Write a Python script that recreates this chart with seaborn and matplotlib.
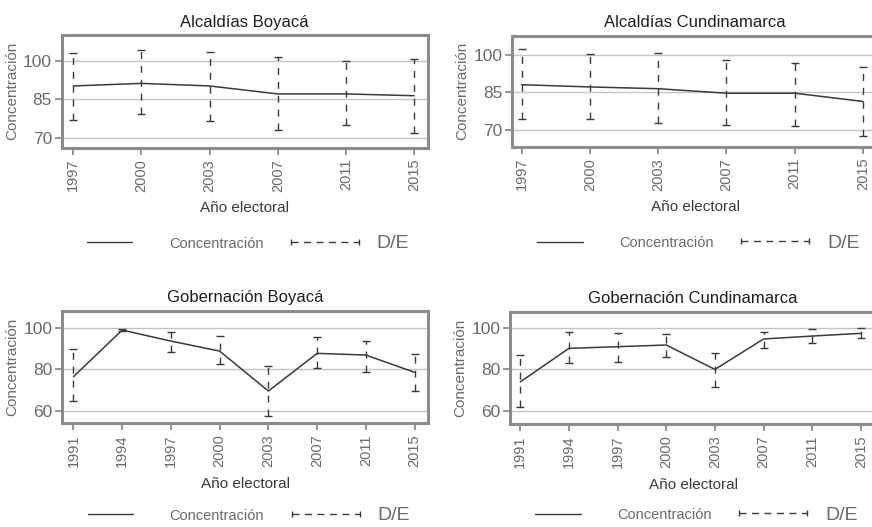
import matplotlib

matplotlib.use("Agg")
import matplotlib.pyplot as plt
import numpy as np
import pandas as pd
import seaborn as sns
from matplotlib.lines import Line2D

# --- data ---
years_alc = ["1997", "2000", "2003", "2007", "2011", "2015"]
years_gob = ["1991", "1994", "1997", "2000", "2003", "2007", "2011", "2015"]

alc_boy_mean = [90.2, 91.2, 90.2, 87.1, 87.1, 86.4]
alc_boy_low = [77.0, 79.3, 76.5, 72.9, 75.1, 71.9]
alc_boy_high = [102.9, 104.1, 103.5, 101.6, 99.9, 100.7]

alc_cun_mean = [88.1, 87.2, 86.5, 84.7, 84.7, 81.4]
alc_cun_low = [74.5, 74.5, 72.8, 72.1, 71.4, 67.6]
alc_cun_high = [102.2, 100.2, 100.9, 97.8, 96.9, 95.2]

gob_boy_mean = [76.5, 98.9, 93.6, 88.8, 69.6, 87.7, 86.9, 78.6]
gob_boy_low = [64.9, 98.5, 88.2, 82.4, 57.7, 80.5, 78.9, 69.7]
gob_boy_high = [89.6, 99.3, 97.8, 96.0, 81.8, 95.6, 93.7, 87.2]

gob_cun_mean = [74.0, 90.1, 90.9, 91.7, 80.0, 94.6, 96.0, 97.3]
gob_cun_low = [62.0, 83.2, 83.7, 86.1, 71.7, 90.4, 92.5, 95.2]
gob_cun_high = [86.9, 97.8, 97.3, 97.0, 88.0, 98.1, 99.2, 99.7]

sns.set_style("white")
plt.rcParams["font.family"] = ["Liberation Sans", "DejaVu Sans"]

FRAME = "#8c8c8c"
GRID = "#c4c4c4"
LINE = "#3a3a3a"
TEXT = "#6a6a6a"

fig = plt.figure(figsize=(8.72, 5.27), dpi=100)

panels = [
    ("Alcaldías Boyacá", years_alc, alc_boy_mean, alc_boy_low, alc_boy_high,
     [0.0708, 0.7197, 0.4197, 0.2139], (-0.17, 5.2), (66.2, 110), [70, 85, 100], -0.85),
    ("Alcaldías Cundinamarca", years_alc, alc_cun_mean, alc_cun_low, alc_cun_high,
     [0.5872, 0.7216, 0.4197, 0.2107], (-0.14, 5.22), (63.3, 107.7), [70, 85, 100], -0.87),
    ("Gobernación Boyacá", years_gob, gob_boy_mean, gob_boy_low, gob_boy_high,
     [0.0714, 0.1968, 0.4197, 0.2136], (-0.23, 7.28), (54.1, 108.2), [60, 80, 100], -0.82),
    ("Gobernación Cundinamarca", years_gob, gob_cun_mean, gob_cun_low, gob_cun_high,
     [0.5849, 0.1954, 0.4197, 0.2132], (-0.21, 7.31), (53.8, 107.7), [60, 80, 100], -0.81),
]

for title, years, mean, low, high, rect, xlim, ylim, yticks, leg_y in panels:
    ax = fig.add_axes(rect)
    df = pd.DataFrame({"pos": np.arange(len(years)), "val": mean})
    mean_a = np.array(mean)
    err = [mean_a - np.array(low), np.array(high) - mean_a]

    _, caps, bars = ax.errorbar(df["pos"], df["val"], yerr=err, fmt="none",
                                ecolor=LINE, elinewidth=1.0, capsize=2.8,
                                capthick=1.0, zorder=3)
    for b in bars:
        b.set_linestyle((0, (5, 5)))
    sns.lineplot(data=df, x="pos", y="val", ax=ax, color=LINE, linewidth=1.1,
                 zorder=4, legend=False)

    ax.set_xlim(*xlim)
    ax.set_ylim(*ylim)
    ax.set_yticks(yticks)
    ax.set_xticks(df["pos"])
    ax.set_xticklabels(years, rotation=90)
    ax.yaxis.grid(True, color=GRID, linewidth=1.0)
    ax.set_axisbelow(True)
    for s in ax.spines.values():
        s.set_visible(True)
        s.set_color(FRAME)
        s.set_linewidth(2.2)
    ax.tick_params(axis="both", which="both", direction="out", length=5,
                   width=1.3, color=FRAME, labelcolor=TEXT, bottom=True, left=True)
    ax.tick_params(axis="y", labelsize=12.5, pad=2)
    ax.tick_params(axis="x", labelsize=10.5, pad=3)
    ax.set_title(title, fontsize=12, color="#1e1e1e", pad=6)
    ax.set_xlabel("Año electoral", fontsize=11, color="#3a3a3a", labelpad=7)
    ax.set_ylabel("Concentración", fontsize=11, color=TEXT, labelpad=3)

    # two legend pieces: the solid line entry and the D/E entry
    h_line = Line2D([], [], color=LINE, linewidth=1.0)
    h_de = Line2D([], [], color=LINE, linewidth=1.0, linestyle=(0, (5, 4)),
                  marker="|", markersize=5, markeredgewidth=1.0)
    leg1 = ax.legend([h_line], ["Concentración"], frameon=False, loc="center",
                     bbox_to_anchor=(0.31, leg_y), handlelength=3.1,
                     handletextpad=2.5, fontsize=10.5)
    leg1.get_texts()[0].set_color(TEXT)
    ax.add_artist(leg1)
    leg2 = ax.legend([h_de], ["D/E"], frameon=False, loc="center",
                     bbox_to_anchor=(0.78, leg_y), handlelength=4.1,
                     handletextpad=0.6, numpoints=2, fontsize=14)
    leg2.get_texts()[0].set_color(TEXT)

fig.savefig("out.png", dpi=100)
